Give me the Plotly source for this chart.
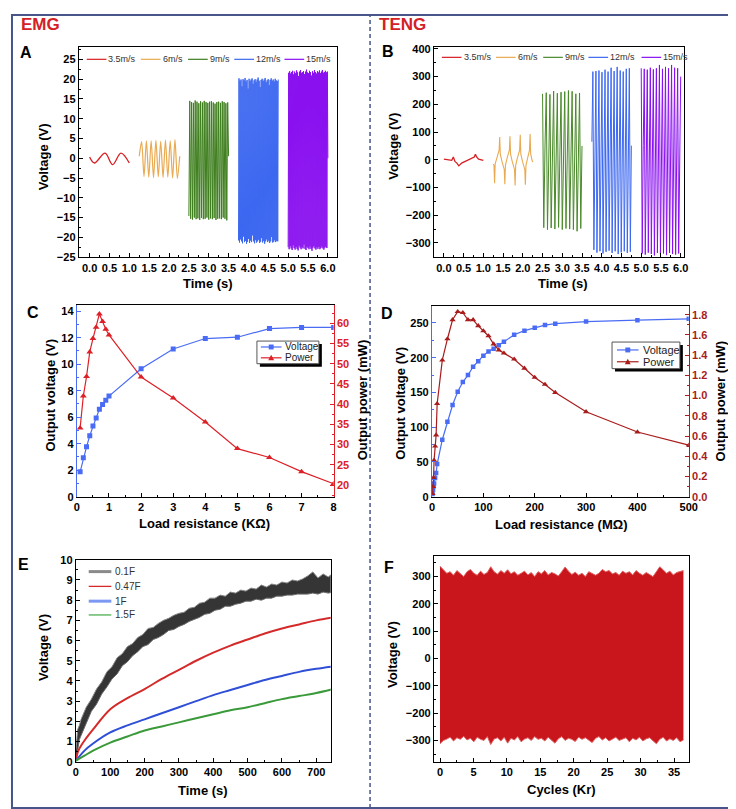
import numpy as np
import plotly.graph_objects as go

W, H = 736, 809
def fx(x): return x / W
def fy(y): return 1 - y / H

FONT = "Liberation Sans"

# ---------------- DATA ----------------
speed_labels = ["3.5m/s", "6m/s", "9m/s", "12m/s", "15m/s"]

# Panel A - EMG voltage waveforms
emg35_t = [0, 0.12, 0.39, 0.58, 0.79, 1.0]
emg35_v = [0.3, -1.2, 1.3, -1.6, 1.3, -1.2]
emg6_v = [0.5, 4.2, -4.6, 4.4, -4.8, 4.4, -4.9, 4.5, -4.7, 4.3, -4.9, 4.6, -4.8, 4.4, -5.0, 4.7, -5.1, 0.5]
emg9_pk = [14.5, 14.2, 14.0, 14.6, 14.3, 13.9, 14.4, 14.1, 14.5, 14.2, 14.0, 14.3, 14.4, 14.1, 13.8, 14.2, 14.3, 14.0, 14.4, 14.2, 13.9, 14.1]
emg9_tr = [-14.6, -15.3, -15.5, -15.0, -15.4, -15.2, -15.6, -15.1, -15.4, -15.3, -15.0, -15.5, -15.2, -15.4, -15.1, -15.6, -15.3, -15.2, -15.4, -15.0, -15.3, -15.7]
emg12_pk = [20.2, 19.6, 19.9, 18.2, 20.0, 19.7, 20.3, 19.4, 19.8, 17.6, 20.1, 19.5, 19.9, 20.2, 18.8, 19.7, 20.0, 19.3, 19.9, 20.4, 19.6, 18.0, 19.8, 20.1, 19.5, 19.9, 20.3, 19.2, 19.7, 20.0, 18.5, 19.8, 20.2, 19.6, 19.9, 19.4, 20.1, 19.7, 19.5, 19.9]
emg12_tr = [-20.8, -21.3, -20.5, -21.0, -21.5, -19.8, -21.2, -20.9, -21.6, -21.1, -20.4, -21.4, -20.8, -21.2, -19.5, -21.0, -21.5, -20.7, -21.3, -21.0, -20.6, -21.4, -21.1, -20.2, -21.3, -20.9, -21.6, -21.0, -20.5, -21.2, -20.8, -21.4, -21.0, -19.9, -21.3, -21.1, -20.7, -21.2, -20.9, -21.0]
emg15_pk = [21.6, 22.0, 21.4, 21.8, 22.1, 21.2, 21.9, 21.5, 22.2, 21.7, 20.8, 21.9, 22.3, 21.6, 21.8, 22.0, 21.3, 21.9, 22.4, 21.7, 21.5, 22.1, 21.8, 20.9, 22.0, 21.6, 22.3, 21.8, 21.4, 22.0, 21.7, 22.2, 21.5, 21.9, 22.3, 21.6, 21.8, 22.1, 21.7, 21.9]
emg15_tr = [-22.5, -23.0, -22.2, -22.8, -23.2, -22.0, -22.7, -23.1, -22.4, -22.9, -23.3, -22.1, -22.6, -23.0, -22.5, -22.8, -21.8, -22.9, -23.2, -22.4, -22.7, -23.0, -22.3, -22.9, -23.4, -22.6, -22.2, -22.8, -23.1, -22.5, -22.9, -22.4, -23.0, -22.7, -22.3, -22.8, -23.1, -22.6, -22.4, -22.7]

# Panel B - TENG voltage waveforms
teng35_t = [0, 0.1, 0.2, 0.24, 0.26, 0.28, 0.33, 0.38, 0.45, 0.55, 0.65, 0.72, 0.77, 0.8, 0.83, 0.88, 0.93, 1.0]
teng35_v = [2, 0, -2, 10, -4, -6, -12, -22, -12, -5, 0, 4, 10, 20, 10, 2, 1, -2]
teng6_t = [1.25, 1.27, 1.285, 1.30, 1.34, 1.38, 1.40, 1.415, 1.43, 1.47, 1.51, 1.53, 1.545, 1.56, 1.60, 1.64, 1.66, 1.675, 1.69, 1.73,
           1.77, 1.79, 1.805, 1.82, 1.86, 1.90, 1.92, 1.935, 1.95, 1.99, 2.03, 2.05, 2.065, 2.08, 2.12, 2.15, 2.17, 2.185, 2.20, 2.24, 2.26]
teng6_v = [-15, -20, -85, -15, 5, 25, 35, 82, 20, -5, -25, -35, -88, -20, 5, 25, 35, 85, 20, -5,
           -25, -35, -93, -20, 5, 25, 35, 90, 20, -5, -25, -35, -90, -20, 5, 25, 35, 93, 20, -5, -8]
teng9_up = [238, 242, 236, 248, 240, 244, 246, 250, 247, 238, 241]
teng9_dn = [-245, -252, -246, -250, -244, -252, -248, -250, -252, -258, -248]
teng9_ring = [50, 42, 55, 38, 48, 52, 40, 46, 54, 44, 50]
teng12_up = [318, 320, 322, 316, 325, 318, 332, 320, 335, 322, 318, 328, 330]
teng12_dn = [-325, -335, -330, -338, -332, -328, -336, -330, -340, -334, -330, -336, -332]
teng12_ring = [55, 48, 60, 45, 52, 58, 50, 47, 56, 53, 49, 57, 51]
teng15_up = [330, 328, 325, 332, 326, 330, 342, 328, 335, 330, 342, 332, 330]
teng15_dn = [-338, -342, -335, -340, -345, -336, -340, -338, -344, -336, -340, -342, -338]
teng15_ring = [52, 58, 47, 55, 50, 60, 48, 54, 57, 49, 53, 56, 50]

# Panel C - EMG load
c_R = [0.1, 0.2, 0.3, 0.4, 0.5, 0.6, 0.7, 0.8, 0.9, 1, 2, 3, 4, 5, 6, 7, 8]
c_V = [1.88, 2.95, 3.77, 4.6, 5.33, 5.95, 6.6, 6.96, 7.28, 7.6, 9.66, 11.15, 11.94, 12.04, 12.69, 12.78, 12.78]
c_P = [34.1, 42.0, 46.8, 52.9, 56.2, 59.0, 62.3, 60.4, 58.5, 57.1, 46.7, 41.5, 35.6, 29.0, 26.8, 23.3, 20.3]

# Panel D - TENG load
d_R = [1, 2, 3, 4, 6, 8, 10, 20, 30, 40, 50, 60, 70, 80, 90, 100, 110, 120, 130, 140, 160, 180, 200, 220, 240, 300, 400, 500]
d_V = [4, 10, 15, 19, 27, 34, 47, 82, 108, 132, 151, 165, 175, 187, 195, 203, 209, 213, 218, 223, 233, 239, 243, 247, 249, 252, 254, 256]
d_P = [0.03, 0.1, 0.19, 0.36, 0.5, 0.61, 0.92, 1.35, 1.56, 1.75, 1.83, 1.82, 1.75, 1.75, 1.69, 1.64, 1.59, 1.51, 1.45, 1.42, 1.36, 1.27, 1.18, 1.11, 1.03, 0.84, 0.64, 0.51]

# Panel E - capacitor charging
cap_labels = ["0.1F", "0.47F", "1F", "1.5F"]
e01_t = [0, 5, 10, 15, 30, 45, 60, 75, 90, 105, 120, 135, 150, 165, 180, 195, 210, 225, 240, 255, 270, 285, 300,
         315, 330, 345, 360, 375, 390, 405, 420, 435, 450, 465, 480, 495, 510, 525, 540, 555, 570, 585, 600,
         615, 630, 645, 660, 675, 690, 705, 720, 735, 750]
e01_hi = [0.6, 1.6, 1.8, 2.1, 2.7, 3.1, 3.6, 3.95, 4.45, 4.7, 5.15, 5.35, 5.7, 5.85, 6.15, 6.3, 6.6, 6.65, 6.85, 7.0, 7.1, 7.25, 7.35,
          7.4, 7.6, 7.65, 7.85, 7.9, 8.1, 8.1, 8.25, 8.2, 8.4, 8.35, 8.5, 8.45, 8.6, 8.55, 8.75, 8.65, 8.8, 8.75, 8.9,
          8.85, 9.0, 8.95, 9.05, 9.2, 9.4, 9.1, 9.3, 9.15, 9.35]
e01_lo = [0.0, 0.7, 1.1, 1.3, 1.9, 2.5, 2.85, 3.35, 3.7, 4.1, 4.35, 4.75, 4.95, 5.25, 5.45, 5.7, 5.8, 6.05, 6.15, 6.3, 6.5, 6.55, 6.7,
          6.8, 6.95, 7.05, 7.15, 7.3, 7.35, 7.5, 7.55, 7.7, 7.7, 7.8, 7.85, 7.95, 7.95, 8.05, 8.0, 8.1, 8.1, 8.2, 8.2,
          8.25, 8.25, 8.3, 8.3, 8.3, 8.35, 8.3, 8.4, 8.35, 8.4]
e047_t = [0, 5, 10, 25, 50, 100, 150, 200, 250, 300, 350, 400, 450, 500, 550, 600, 650, 700, 750]
e047_v = [0.1, 0.45, 0.65, 1.05, 1.6, 2.6, 3.15, 3.6, 4.1, 4.55, 5.0, 5.4, 5.75, 6.05, 6.35, 6.6, 6.8, 7.0, 7.15]
e1_t = [0, 25, 50, 100, 150, 200, 250, 300, 350, 400, 450, 500, 550, 600, 650, 700, 750]
e1_v = [0.05, 0.55, 0.9, 1.45, 1.8, 2.1, 2.4, 2.7, 3.0, 3.3, 3.55, 3.8, 4.05, 4.25, 4.45, 4.6, 4.72]
e15_v = [0.05, 0.3, 0.55, 0.95, 1.25, 1.55, 1.75, 1.95, 2.15, 2.35, 2.55, 2.7, 2.9, 3.1, 3.25, 3.4, 3.6]

# Panel F - long term stability envelope
f_hi = [338, 325, 312, 318, 305, 322, 310, 300, 318, 326, 312, 305, 320, 308, 315, 336, 318, 309, 322, 312, 325, 310, 318, 305, 312,
        320, 306, 315, 300, 318, 310, 322, 306, 315, 310, 302, 318, 335, 320, 308, 316, 305, 312, 300, 318, 310, 305, 312, 326, 318,
        322, 310, 315, 305, 320, 312, 318, 306, 322, 312, 305, 315, 308, 300, 318, 336, 325, 312, 320, 306, 315, 318, 322]
f_lo = [-312, -300, -295, -288, -302, -290, -296, -285, -298, -292, -305, -288, -296, -300, -286, -315, -295, -290, -302, -288, -310,
        -292, -298, -286, -305, -295, -290, -300, -286, -296, -292, -302, -288, -298, -310, -294, -286, -300, -292, -296, -304, -288,
        -296, -290, -300, -308, -292, -286, -298, -290, -302, -294, -288, -300, -296, -290, -305, -292, -298, -288, -302, -294, -290,
        -300, -312, -296, -288, -302, -294, -300, -290, -305, -298]
f_end = 36.4

# ---------------- COLORS ----------------
RED = "#d81e22"
ORANGE = "#e9aa52"
GREEN = "#3f7f1f"
TGREEN = "#4a8a2a"
BLUE = "#3d68f0"
PURPLE = "#8a10f0"
speed_colors = [RED, ORANGE, GREEN, BLUE, PURPLE]

fig = go.Figure()

def add(x, y, xa, ya, **kw):
    fig.add_trace(go.Scatter(x=list(x), y=list(y), xaxis=xa, yaxis=ya, showlegend=False,
                             hoverinfo="skip", **kw))

def zig(a, b):
    out = []
    for i in range(max(len(a), len(b))):
        if i < len(a): out.append(a[i])
        if i < len(b): out.append(b[i])
    return out

def cyc(up, dn, ring):
    out = []
    for u, d, r in zip(up, dn, ring):
        out += [u, d, r]
    return out

# Panel A
add(emg35_t, emg35_v, "x", "y", mode="lines", line=dict(color=RED, width=1.3, shape="spline", smoothing=1.0))
add(np.linspace(1.25, 2.27, len(emg6_v)), emg6_v, "x", "y", mode="lines", line=dict(color=ORANGE, width=1.2, shape="spline", smoothing=0.8))
v9 = zig(emg9_tr, emg9_pk) + [0.5]
add(np.linspace(2.5, 3.5, len(v9)), v9, "x", "y", mode="lines", line=dict(color=GREEN, width=1))
v12 = zig(emg12_tr, emg12_pk)
add(np.linspace(3.75, 4.75, len(v12)), v12, "x", "y", mode="lines", line=dict(color=BLUE, width=1))
v15 = zig(emg15_tr, emg15_pk) + [0]
add(np.linspace(5.0, 6.0, len(v15)), v15, "x", "y", mode="lines", line=dict(color=PURPLE, width=1))

# Panel B
add(teng35_t, teng35_v, "x2", "y2", mode="lines", line=dict(color=RED, width=1.3))
add(teng6_t, teng6_v, "x2", "y2", mode="lines", line=dict(color=ORANGE, width=1.1))
s9 = cyc(teng9_up, teng9_dn, teng9_ring)
add(np.linspace(2.5, 3.5, len(s9)), s9, "x2", "y2", mode="lines", line=dict(color=TGREEN, width=1))
s12 = [65] + cyc(teng12_up, teng12_dn, teng12_ring)
add(np.linspace(3.75, 4.75, len(s12)), s12, "x2", "y2", mode="lines", line=dict(color=BLUE, width=1))
s15 = cyc(teng15_up, teng15_dn, teng15_ring) + [300]
add(np.linspace(5.0, 6.0, len(s15)), s15, "x2", "y2", mode="lines", line=dict(color=PURPLE, width=1))

# Panel C
CBLUE = "#4a6cf5"
CRED = "#dd2027"
add(c_R, c_V, "x3", "y3", mode="lines+markers", line=dict(color=CBLUE, width=1.2),
    marker=dict(symbol="square", size=5, color=CBLUE))
add(c_R, c_P, "x3", "y7", mode="lines+markers", line=dict(color=CRED, width=1.2),
    marker=dict(symbol="triangle-up", size=6, color=CRED))

# Panel D
DRED = "#a81c1c"
add(d_R, d_V, "x4", "y4", mode="lines+markers", line=dict(color=CBLUE, width=1.2),
    marker=dict(symbol="square", size=4.5, color=CBLUE))
add(d_R, d_P, "x4", "y8", mode="lines+markers", line=dict(color=DRED, width=1.2),
    marker=dict(symbol="triangle-up", size=5.5, color=DRED))

# Panel E
add(e01_t, e01_lo, "x5", "y5", mode="lines", line=dict(color="#6a6a6a", width=1))
add(e01_t, e01_hi, "x5", "y5", mode="lines", line=dict(color="#8a8a8a", width=1), fill="tonexty", fillcolor="#353535")
add(e047_t, e047_v, "x5", "y5", mode="lines", line=dict(color="#d42a2a", width=2, shape="spline"))
add(e1_t, e1_v, "x5", "y5", mode="lines", line=dict(color="#2f4fd6", width=2, shape="spline"))
add(e1_t, e15_v, "x5", "y5", mode="lines", line=dict(color="#3a9a3a", width=2, shape="spline"))

# Panel F
FRED = "#c8161c"
fgrid = np.linspace(0, f_end, len(f_hi))
add(fgrid, f_lo, "x6", "y6", mode="lines", line=dict(color="#e06060", width=1))
add(fgrid, f_hi, "x6", "y6", mode="lines", line=dict(color="#e06060", width=1), fill="tonexty", fillcolor=FRED)

# ---------------- AXES ----------------
def axis(dom, rng, dtick, mdtick, anchor, tick0=0, fmt=None, linecolor="black", mirror=True,
         side=None, overlaying=None, labelcolor="black"):
    d = dict(range=rng, tickmode="linear", tick0=tick0, dtick=dtick, anchor=anchor,
             showline=True, linecolor=linecolor, linewidth=1.3, mirror=mirror,
             ticks="inside", ticklen=4, tickwidth=1, tickcolor=linecolor,
             showgrid=False, zeroline=False,
             tickfont=dict(family=FONT, size=11, color=labelcolor, weight="bold"),
             minor=dict(ticks="inside", ticklen=2, dtick=mdtick, tick0=tick0,
                        tickcolor=linecolor, showgrid=False))
    if dom is not None: d["domain"] = dom
    if fmt: d["tickformat"] = fmt
    if side: d["side"] = side
    if overlaying: d["overlaying"] = overlaying
    return d

def dx(a, b): return [fx(a), fx(b)]
def dy(top, bot): return [fy(bot), fy(top)]

layout_axes = dict(
    xaxis=axis(dx(69, 331), [-0.27, 6.22], 0.5, 0.25, "y", fmt=".1f"),
    yaxis=axis(dy(34, 247), [-25.05, 28], 5, 2.5, "x"),
    xaxis2=axis(dx(430, 684), [-0.25, 6.08], 0.5, 0.25, "y2", fmt=".1f"),
    yaxis2=axis(dy(34, 247), [-352, 405], 100, 50, "x2"),
    xaxis3=axis(dx(67, 328), [0, 8], 1, 0.5, "y3"),
    yaxis3=axis(dy(295, 490), [0, 14.5], 2, 1, "x3", linecolor=CBLUE, mirror=False),
    yaxis7=axis(None, [17.1, 64.6], 5, 2.5, "x3", linecolor=CRED, mirror=False, side="right",
                overlaying="y3", labelcolor=CRED),
    xaxis4=axis(dx(428, 689), [0, 500], 100, 50, "y4"),
    yaxis4=axis(dy(296, 490), [0, 275], 50, 25, "x4", linecolor=CBLUE, mirror=False),
    yaxis8=axis(None, [0, 1.89], 0.2, 0.1, "x4", fmt=".1f", linecolor=DRED, mirror=False, side="right",
                overlaying="y4", labelcolor=DRED),
    xaxis5=axis(dx(66, 325), [0, 742], 100, 50, "y5"),
    yaxis5=axis(dy(554, 759), [0, 10], 1, 0.5, "x5"),
    xaxis6=axis(dx(430, 689), [-0.9, 37.2], 5, 2.5, "y6"),
    yaxis6=axis(dy(550, 759), [-378, 376], 100, 50, "x6"),
)

# ---------------- ANNOTATIONS ----------------
ann = []
def text(x, y, s, size=13, bold=True, color="black", angle=0, xanchor="center", yanchor="middle"):
    ann.append(dict(x=fx(x), y=fy(y), xref="paper", yref="paper", text=s, showarrow=False,
                    textangle=angle, xanchor=xanchor, yanchor=yanchor,
                    font=dict(family=FONT, size=size, color=color, weight="bold" if bold else "normal")))

text(8, 11, "EMG", size=17, color="#d42027", xanchor="left")
text(372, 11, "TENG", size=17, color="#d42027", xanchor="left")
for lab, x, y in [("A", 15, 39), ("B", 383, 38), ("C", 22, 303), ("D", 382, 304), ("E", 13, 559), ("F", 384, 562)]:
    text(x, y, lab, size=16)

text(200, 274, "Time (s)")
text(33, 145, "Voltage (V)", angle=-90)
text(561, 274, "Time (s)")
text(388, 134, "Voltage (V)", angle=-90)
text(197, 517, "Load resistance (KΩ)")
text(40, 387, "Output voltage (V)", angle=-90)
text(357, 392, "Output power (mW)", angle=-90)
text(560, 518, "Load resistance (MΩ)")
text(396, 395, "Output voltage (V)", angle=-90)
text(721, 393, "Output power (mW)", angle=-90)
text(195, 788, "Time (s)")
text(33, 643, "Voltage (V)", angle=-90)
text(560, 787, "Cycles (Kr)")
text(388, 650, "Voltage (V)", angle=-90)

# ---------------- SHAPES (frame + legends) ----------------
shapes = []
BORDER = "#47558a"
shapes.append(dict(type="rect", xref="paper", yref="paper", x0=fx(1), x1=fx(734), y0=fy(806), y1=fy(1),
                   line=dict(color=BORDER, width=2), layer="above"))
shapes.append(dict(type="line", xref="paper", yref="paper", x0=fx(365), x1=fx(365), y0=fy(806), y1=fy(1),
                   line=dict(color=BORDER, width=1.5, dash="4px,3px"), layer="above"))

def lshape(x0, x1, y, color, width=1.2):
    shapes.append(dict(type="line", xref="paper", yref="paper", x0=fx(x0), x1=fx(x1), y0=fy(y), y1=fy(y),
                       line=dict(color=color, width=width), layer="above"))

# legend A
for lab, col, lx in zip(speed_labels, speed_colors, [77, 132, 180, 227, 278]):
    lshape(lx, lx + 20, 46, col)
    text(lx + 20, 46, lab, size=9, bold=False, color="#333", xanchor="left")
# legend B
for lab, col, lx in zip(speed_labels, [RED, ORANGE, TGREEN, BLUE, PURPLE], [438, 493, 541, 587, 641]):
    lshape(lx, lx + 20, 44, col)
    text(lx + 20, 44, lab, size=9, bold=False, color="#333", xanchor="left")

def boxlegend(x0, y0, x1, y1, rows, lx0, lx1, tx, size, red, msq, mtri):
    shapes.append(dict(type="rect", xref="paper", yref="paper", x0=fx(x0 + 3), x1=fx(x1 + 3), y0=fy(y1 + 3), y1=fy(y0 + 3),
                       fillcolor="black", line=dict(width=0), layer="above"))
    shapes.append(dict(type="rect", xref="paper", yref="paper", x0=fx(x0), x1=fx(x1), y0=fy(y1), y1=fy(y0),
                       fillcolor="white", line=dict(color="#555", width=1), layer="above"))
    mx = (lx0 + lx1) / 2
    r1, r2 = rows
    lshape(lx0, lx1, r1, CBLUE)
    h = msq / 2
    shapes.append(dict(type="rect", xref="paper", yref="paper", x0=fx(mx - h), x1=fx(mx + h), y0=fy(r1 + h), y1=fy(r1 - h),
                       fillcolor=CBLUE, line=dict(width=0), layer="above"))
    lshape(lx0, lx1, r2, red)
    t = mtri / 2
    path = f"M {fx(mx)},{fy(r2 - t)} L {fx(mx + t)},{fy(r2 + t * 0.8)} L {fx(mx - t)},{fy(r2 + t * 0.8)} Z"
    shapes.append(dict(type="path", xref="paper", yref="paper", path=path, fillcolor=red,
                       line=dict(width=0), layer="above"))
    text(tx, r1, "Voltage", size=size, bold=False, color="#222", xanchor="left")
    text(tx, r2, "Power", size=size, bold=False, color="#222", xanchor="left")

boxlegend(250, 332, 313, 355, (338, 349), 254, 275, 276, 10, CRED, 5, 6)
boxlegend(611, 333, 680, 360, (341, 353), 616, 638, 640, 11, DRED, 5, 6)

# legend E
for lab, col, wd, yy in zip(cap_labels, ["#8a8a8a", "#d42a2a", "#7d98f2", "#4caf50"], [3, 1.3, 3, 1.3], [566, 581, 596, 610]):
    lshape(79, 102, yy, col, wd)
    text(104, yy, lab, size=10, bold=False, color="#333", xanchor="left")

fig.update_layout(
    width=W, height=H, margin=dict(l=0, r=0, t=0, b=0),
    paper_bgcolor="white", plot_bgcolor="white", showlegend=False,
    annotations=ann, shapes=shapes, **layout_axes,
)

fig.write_html("out.html")
